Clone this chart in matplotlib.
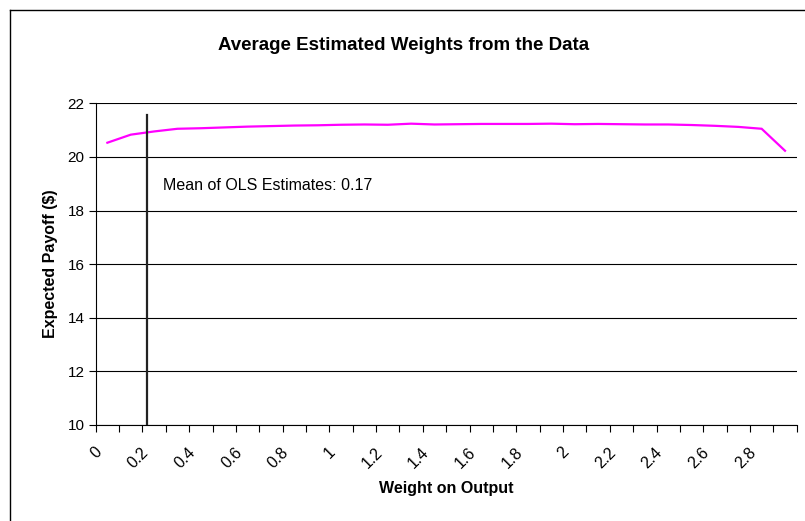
import matplotlib
matplotlib.use("Agg")
import matplotlib.pyplot as plt
import matplotlib.transforms as mtransforms
from matplotlib.lines import Line2D
import numpy as np

plt.rcParams['font.family'] = ['Liberation Sans', 'DejaVu Sans']

# Data
weights = [round(0.1 * i, 1) for i in range(30)]  # 0.0 .. 2.9 categories
payoff = [20.53, 20.83, 20.95, 21.05, 21.07, 21.10, 21.13, 21.15, 21.17, 21.18,
          21.20, 21.21, 21.20, 21.24, 21.21, 21.22, 21.23, 21.23, 21.23, 21.24,
          21.22, 21.23, 21.22, 21.21, 21.21, 21.19, 21.16, 21.12, 21.05, 20.23]
tick_labels = ['0', '0.2', '0.4', '0.6', '0.8', '1', '1.2', '1.4', '1.6', '1.8',
               '2', '2.2', '2.4', '2.6', '2.8']
ols_mean = 0.17
ols_line_top = 21.55
y_ticks = [10, 12, 14, 16, 18, 20, 22]

W, H = 805, 521
fig = plt.figure(figsize=(W / 100, H / 100), dpi=100)
ax = fig.add_axes([95.7 / W, 1 - 425 / H, (796.7 - 95.7) / W, (425 - 103.3) / H])

idx = np.arange(len(weights))
ax.plot(idx, payoff, color='#FF00FF', lw=1.6, solid_joinstyle='miter', zorder=3)

# OLS mean vertical line (category index = weight / step)
step = weights[1] - weights[0]
xo = ols_mean / step
ax.plot([xo, xo], [10, ols_line_top], color='#222222', lw=1.6, zorder=4)
ax.text(xo + 0.7, 18.95, 'Mean of OLS Estimates: 0.17', fontsize=11.5,
        va='center', ha='left', color='black')

ax.set_xlim(-0.5, len(weights) - 0.5)
ax.set_ylim(10, 22)
ax.set_yticks(y_ticks)
ax.set_yticklabels([str(v) for v in y_ticks], fontsize=11)
ax.yaxis.grid(True, color='black', lw=0.8)
ax.set_axisbelow(True)

# x category labels (every other category), rotated like the original
ax.set_xticks([])
ax.set_xticks(np.arange(-0.5, len(weights) + 0.5, 1), minor=True)
ax.tick_params(axis='x', which='minor', length=5, width=0.8, direction='out',
               labelbottom=False)
base = mtransforms.blended_transform_factory(ax.transData, ax.transAxes)
lab_tr = mtransforms.offset_copy(base, fig=fig, x=-8, y=-25, units='dots')
for i, lab in zip(idx[::2], tick_labels):
    ax.text(i, 0, lab, transform=lab_tr, fontsize=11.5, rotation=45,
            ha='right', va='center', rotation_mode='anchor', clip_on=False)

ax.tick_params(axis='y', length=5, width=0.8, direction='out', pad=3)

for s in ['top', 'right']:
    ax.spines[s].set_visible(False)
for s in ['left', 'bottom']:
    ax.spines[s].set_color('black')
    ax.spines[s].set_linewidth(0.8)

fig.text(446 / W, 1 - 488 / H, 'Weight on Output', fontsize=11.5,
         fontweight='bold', ha='center', va='center')
ax.set_ylabel('Expected Payoff ($)', fontsize=11.5, fontweight='bold', labelpad=7)

fig.text(404 / W, 1 - 46 / H, 'Average Estimated Weights from the Data',
         fontsize=13.5, fontweight='bold', ha='center', va='center')

# outer frame (left and top edges visible)
fig.add_artist(Line2D([9.5 / W, 9.5 / W], [0, 1 - 9.5 / H], color='black', lw=1,
                      transform=fig.transFigure))
fig.add_artist(Line2D([9.5 / W, 1], [1 - 9.5 / H, 1 - 9.5 / H], color='black', lw=1,
                      transform=fig.transFigure))

fig.savefig('out.png', dpi=100)
